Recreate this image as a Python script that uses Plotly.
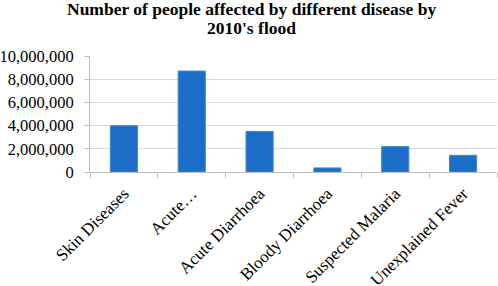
import plotly.graph_objects as go

categories = ["Skin Diseases", "Acute…", "Acute Diarrhoea", "Bloody Diarrhoea",
              "Suspected Malaria", "Unexplained Fever"]
values = [3980000, 8700000, 3500000, 350000, 2190000, 1440000]
y_ticks = [0, 2000000, 4000000, 6000000, 8000000, 10000000]
y_tick_labels = ["0", "2,000,000", "4,000,000", "6,000,000", "8,000,000", "10,000,000"]
title_lines = ["Number of people affected by different disease by", "2010's flood"]

font_family = "Liberation Serif, Times New Roman, serif"

fig = go.Figure(go.Bar(
    x=categories, y=values,
    marker=dict(color="#1c6dc8", line=dict(color="#3f86d6", width=1)),
))

for line, shift in zip(title_lines, [47, 28]):
    fig.add_annotation(
        text=f"<b>{line}</b>", showarrow=False,
        xref="paper", yref="paper", x=0.397, y=1,
        xanchor="center", yanchor="middle", yshift=shift,
        font=dict(family=font_family, size=17.5, color="black"),
    )

fig.update_layout(
    width=498, height=286,
    margin=dict(l=90, r=1, t=56, b=114),
    paper_bgcolor="white", plot_bgcolor="white",
    bargap=0.6,
    showlegend=False,
    font=dict(family=font_family, color="black", size=16),
)

fig.update_xaxes(
    tickangle=-45,
    automargin=False,
    showline=True, linecolor="#bfbfbf", linewidth=1,
    ticks="outside", ticklen=5, tickcolor="#bfbfbf", tickson="boundaries",
    ticklabelstandoff=4,
    showgrid=False,
    tickfont=dict(family=font_family, size=17, color="black"),
)
fig.update_yaxes(
    range=[0, 10000000],
    automargin=False,
    tickvals=y_ticks, ticktext=y_tick_labels,
    showgrid=True, gridcolor="#d9d9d9", gridwidth=1,
    showline=True, linecolor="#bfbfbf", linewidth=1,
    ticks="outside", ticklen=5, tickcolor="#bfbfbf",
    ticklabelstandoff=7,
    zeroline=False,
    tickfont=dict(family=font_family, size=16.5, color="black"),
)

fig.write_html("out.html", config={"displayModeBar": False},
               post_script="document.body.style.margin='0';")
